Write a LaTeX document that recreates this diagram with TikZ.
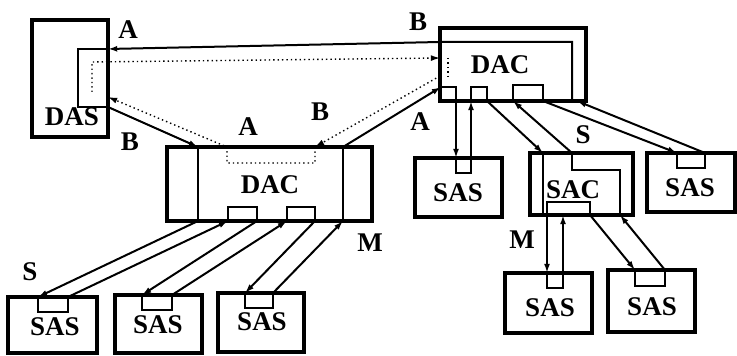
\documentclass[tikz,border=0pt]{standalone}
\usepackage{fontspec}
\setmainfont{Liberation Serif}
\usetikzlibrary{arrows.meta}
% box from corner (#3,#4) to corner (#5,#6), in pixels of the sketch
\newcommand{\rbox}[6]{%
  \node[#1, minimum width={(#5-#3)*0.5pt}, minimum height={(#6-#4)*0.5pt}]
    (#2) at ({(#3+#5)/2},{(#4+#6)/2}) {};}
\tikzset{
  unit/.style={draw, line width=1.6pt, inner sep=0pt, outer sep=0pt},
  port/.style={draw, line width=1.1pt, inner sep=0pt, outer sep=0pt},
  inl/.style={line width=1pt},
  sarr/.style={-{Latex[length=4.6pt,width=3pt]}, line width=1pt},
  darr/.style={-{Latex[length=4.6pt,width=3pt]}, line width=0.7pt, dash pattern=on 0.7pt off 1.5pt},
  dots/.style={line width=0.7pt, dash pattern=on 0.7pt off 1.5pt},
  tag/.style={font=\fontsize{13.5}{15}\selectfont\bfseries, inner sep=0pt},
}
\begin{document}
\begin{tikzpicture}[x=0.5pt, y=-0.5pt]
\useasboundingbox (0,0) rectangle (737,356);
%---- units
\rbox{unit}{das}{32}{20}{108}{137}
\rbox{port}{dasin}{78}{49}{108}{107}
\rbox{unit}{dac1}{440}{28}{586}{101}
\rbox{unit}{dac2}{167}{147}{372}{221}
\rbox{unit}{sac}{530}{153}{633}{215}
\rbox{unit}{sas1}{415}{158}{502}{217}
\rbox{unit}{sas2}{647}{153}{735}{212}
\rbox{unit}{sas3}{505}{273}{592}{333}
\rbox{unit}{sas4}{608}{270}{695}{332}
\rbox{unit}{sas5}{8}{297}{97}{353}
\rbox{unit}{sas6}{115}{295}{202}{353}
\rbox{unit}{sas7}{218}{293}{304}{352}
%---- ports
\rbox{port}{d1a}{441}{87}{456}{101}
\rbox{port}{d1b}{471}{87}{487}{101}
\rbox{port}{d1c}{513}{85}{543}{101}
\rbox{port}{d2a}{228}{207}{257}{221}
\rbox{port}{d2b}{287}{207}{315}{221}
\rbox{port}{sacp}{547}{202}{590}{215}
\rbox{port}{s1p}{456}{158}{471}{173}
\rbox{port}{s2p}{677}{153}{705}{168}
\rbox{port}{s3p}{547}{273}{563}{288}
\rbox{port}{s4p}{635}{270}{665}{286}
\rbox{port}{s5p}{38}{297}{68}{312}
\rbox{port}{s6p}{142}{295}{172}{310}
\rbox{port}{s7p}{245}{293}{273}{308}
%---- inner lines
\coordinate (d1rt) at (572,42); \coordinate (d1rb) at (572,101);
\coordinate (d1dt) at (448,58); \coordinate (d1db) at (448,76);
\coordinate (d2lt) at (198,147); \coordinate (d2lb) at (198,221);
\coordinate (d2rt) at (343,147); \coordinate (d2rb) at (343,221);
\coordinate (d2dl) at (227,147); \coordinate (d2dr) at (315,147);
\coordinate (saclt) at (543,153); \coordinate (saclb) at (543,215);
\coordinate (sacrt) at (572,153); \coordinate (sacrb) at (620,215);
\coordinate (dasdt) at (92,62); \coordinate (dasdb) at (92,92);
\coordinate (dasdin) at (108,97);
\draw[inl] (d2lt) -- (d2lb); \draw[inl] (d2rt) -- (d2rb);
\draw[inl] (saclt) -- (saclb);
\draw[inl] (sacrt) -- ++(0,17) -| (sacrb);
\draw[dots] (d1dt) -- (d1db);
%---- links between the DAS and the DACs
\draw[sarr] (d1rb) -- (d1rt) -- (d1rt -| dac1.west) -- (dasin.north east);
\draw[darr] (dasdb) -- (dasdt) -- (d1dt -| dac1.west);
\draw[darr] (d1db -| dac1.west) -- (d2dr);
\draw[darr] (d2dr) -- ++(0,16) -| (d2dl) -- (dasdin);
\draw[sarr] (dasin.south east) -- (d2lt);
\draw[sarr] (d2rt) -- (d1a.north west);
%---- DAC (right) to its units
\draw[sarr] (d1a.south east) -- (s1p.north west);
\draw[sarr] (s1p.north east) -- (d1b.south west);
\draw[sarr] (d1b.south east) -- (saclt);
\draw[sarr] (sacrt) -- (d1c.south west);
\draw[sarr] (d1c.south east) -- (s2p.north west);
\draw[sarr] (s2p.north east) -- ([xshift=2.5pt]d1rb);
%---- SAC to its units
\draw[sarr] (sacp.south west) -- (s3p.north west);
\draw[sarr] (s3p.north east) -- (s3p.north east |- sacp.south);
\draw[sarr] (sacp.south east) -- (s4p.north west);
\draw[sarr] (s4p.north east) -- (sacrb);
%---- DAC (left) to its units
\draw[sarr] (d2lb) -- (s5p.north west);
\draw[sarr] (s5p.north east) -- (d2a.south west);
\draw[sarr] (d2a.south east) -- (s6p.north west);
\draw[sarr] (s6p.north east) -- (d2b.south west);
\draw[sarr] (d2b.south east) -- (s7p.north west);
\draw[sarr] (s7p.north east) -- (d2rb);
%---- names
\node[tag] (tdas) at (72,117) {DAS};
\node[tag] (tdac1) at (500,65) {DAC};
\node[tag] (tdac2) at (270,185) {DAC};
\node[tag] (tsac) at (573,190) {SAC};
\node[tag] (tsas1) at (458,193) {SAS};
\node[tag] (tsas2) at (690,188) {SAS};
\node[tag] (tsas3) at (550,308) {SAS};
\node[tag] (tsas4) at (652,307) {SAS};
\node[tag] (tsas5) at (55,327) {SAS};
\node[tag] (tsas6) at (158,325) {SAS};
\node[tag] (tsas7) at (262,322) {SAS};
%---- link labels
\node[tag] (la1) at (128,30) {A};
\node[tag] (lb1) at (130,142) {B};
\node[tag] (lb2) at (418,22) {B};
\node[tag] (la2) at (420,122) {A};
\node[tag] (la3) at (248,127) {A};
\node[tag] (lb3) at (320,112) {B};
\node[tag] (ls1) at (583,135) {S};
\node[tag] (lm1) at (370,243) {M};
\node[tag] (ls2) at (30,272) {S};
\node[tag] (lm2) at (522,240) {M};
\end{tikzpicture}
\end{document}
